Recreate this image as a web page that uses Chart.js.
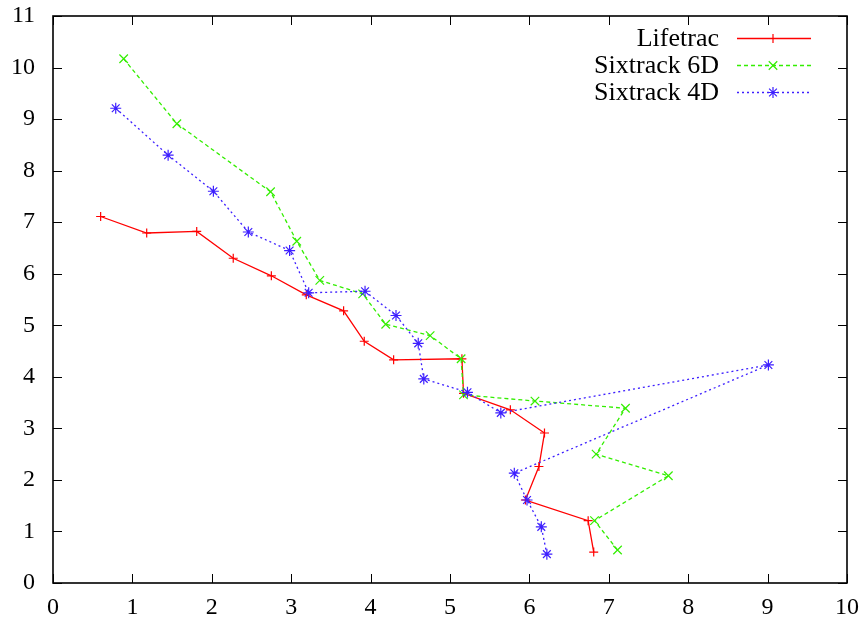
<!DOCTYPE html>
<html><head><meta charset="utf-8">
<script src="https://cdn.jsdelivr.net/npm/chart.js@4/dist/chart.umd.min.js"></script>
<style>html,body{margin:0;padding:0;background:#fff}</style>
</head><body>
<canvas id="c" width="864" height="625"></canvas>
<script>
// ---- data ----
const lifetracX = [0.60, 1.18, 1.81, 2.27, 2.75, 3.19, 3.66, 3.92, 4.29, 5.15, 5.17, 5.76, 6.19, 6.12, 5.95, 6.74, 6.81];
const lifetracY = [7.11, 6.79, 6.82, 6.30, 5.96, 5.59, 5.28, 4.69, 4.33, 4.35, 3.68, 3.36, 2.91, 2.26, 1.61, 1.21, 0.60];
const six6dX = [0.89, 1.56, 2.74, 3.07, 3.36, 3.90, 4.19, 4.75, 5.14, 5.17, 6.07, 7.21, 6.84, 7.75, 6.82, 7.11];
const six6dY = [10.17, 8.91, 7.59, 6.63, 5.87, 5.61, 5.02, 4.80, 4.35, 3.65, 3.53, 3.39, 2.50, 2.08, 1.21, 0.64];
const six4dX = [0.79, 1.45, 2.02, 2.46, 2.98, 3.22, 3.93, 4.32, 4.60, 4.67, 5.22, 5.64, 9.01, 5.81, 5.97, 6.15, 6.22];
const six4dY = [9.21, 8.30, 7.60, 6.81, 6.45, 5.63, 5.66, 5.19, 4.65, 3.96, 3.70, 3.30, 4.23, 2.13, 1.61, 1.09, 0.56];
const seriesNames = ['Lifetrac', 'Sixtrack 6D', 'Sixtrack 4D'];
const xTickValues = [0, 1, 2, 3, 4, 5, 6, 7, 8, 9, 10];
const yTickValues = [0, 1, 2, 3, 4, 5, 6, 7, 8, 9, 10, 11];

const toPts = (xs, ys) => xs.map((x, i) => ({x: x, y: ys[i]}));
const FONT = "'Liberation Serif', 'Times New Roman', serif";

const datasets = [
  {label: seriesNames[0], data: toPts(lifetracX, lifetracY), borderColor: '#ff0000', backgroundColor: '#ff0000',
   borderWidth: 1.3, pointStyle: 'cross', pointRadius: 4.5, pointBorderWidth: 1.2, order: 2},
  {label: seriesNames[1], data: toPts(six6dX, six6dY), borderColor: '#33ee00', backgroundColor: '#33ee00',
   borderWidth: 1.3, borderDash: [4, 3], pointStyle: 'crossRot', pointRadius: 6, pointBorderWidth: 1.2, order: 1},
  {label: seriesNames[2], data: toPts(six4dX, six4dY), borderColor: '#3d1fff', backgroundColor: '#3d1fff',
   borderWidth: 1.3, borderDash: [2, 3], pointStyle: 'star', pointRadius: 5.5, pointBorderWidth: 1.2, order: 0}
];

const framePlugin = {
  id: 'frame',
  afterDraw(chart) {
    const ctx = chart.ctx, a = chart.chartArea;
    const xs = chart.scales.x, ys = chart.scales.y;
    ctx.save();
    ctx.strokeStyle = '#000';
    ctx.lineWidth = 1;
    const L = 9;
    ctx.beginPath();
    xTickValues.forEach(v => {
      const p = Math.round(xs.getPixelForValue(v)) + 0.5;
      ctx.moveTo(p, a.bottom); ctx.lineTo(p, a.bottom - L);
      ctx.moveTo(p, a.top); ctx.lineTo(p, a.top + L);
    });
    yTickValues.forEach(v => {
      const p = Math.round(ys.getPixelForValue(v)) + 0.5;
      ctx.moveTo(a.left, p); ctx.lineTo(a.left + L, p);
      ctx.moveTo(a.right, p); ctx.lineTo(a.right - L, p);
    });
    ctx.stroke();
    ctx.lineWidth = 1.6;
    ctx.strokeRect(a.left, a.top, a.right - a.left, a.bottom - a.top);
    // legend (gnuplot style: text right-aligned, sample line to the right)
    ctx.font = '26px ' + FONT;
    ctx.textAlign = 'right';
    ctx.textBaseline = 'middle';
    const rowsY = [38, 65, 92];
    datasets.forEach((ds, i) => {
      const y = rowsY[i];
      ctx.fillStyle = '#000';
      ctx.fillText(ds.label, 719, y + 1);
      ctx.strokeStyle = ds.borderColor;
      ctx.lineWidth = ds.borderWidth;
      ctx.setLineDash(ds.borderDash || []);
      ctx.beginPath();
      ctx.moveTo(737, y + 0.5); ctx.lineTo(811, y + 0.5);
      ctx.stroke();
      ctx.setLineDash([]);
      ctx.lineWidth = ds.pointBorderWidth;
      Chart.helpers.drawPoint(ctx, {pointStyle: ds.pointStyle, radius: ds.pointRadius, borderWidth: ds.pointBorderWidth, rotation: 0}, 773, y + 0.5);
    });
    ctx.restore();
  }
};

function zeroPad(s) { s.paddingTop = 0; s.paddingBottom = 0; s.paddingLeft = 0; s.paddingRight = 0; }

new Chart(document.getElementById('c'), {
  type: 'line',
  data: {datasets: datasets},
  options: {
    responsive: false,
    animation: false,
    events: [],
    layout: {padding: {top: 16, right: 17, left: 0, bottom: 0}},
    plugins: {legend: {display: false}, tooltip: {enabled: false}},
    elements: {line: {tension: 0}},
    scales: {
      x: {
        type: 'linear', min: 0, max: 10,
        afterFit(s) { s.height = 42; zeroPad(s); },
        afterBuildTicks(s) { s.ticks = xTickValues.map(v => ({value: v})); },
        grid: {display: false, drawTicks: false},
        border: {display: false},
        ticks: {font: {family: FONT, size: 24}, color: '#000', padding: 10, maxRotation: 0, autoSkip: false}
      },
      y: {
        type: 'linear', min: 0, max: 11,
        afterFit(s) { s.width = 53; zeroPad(s); },
        afterBuildTicks(s) { s.ticks = yTickValues.map(v => ({value: v})); },
        grid: {display: false, drawTicks: false},
        border: {display: false},
        ticks: {font: {family: FONT, size: 24}, color: '#000', padding: 18, autoSkip: false}
      }
    }
  },
  plugins: [framePlugin]
});
</script>
</body></html>
